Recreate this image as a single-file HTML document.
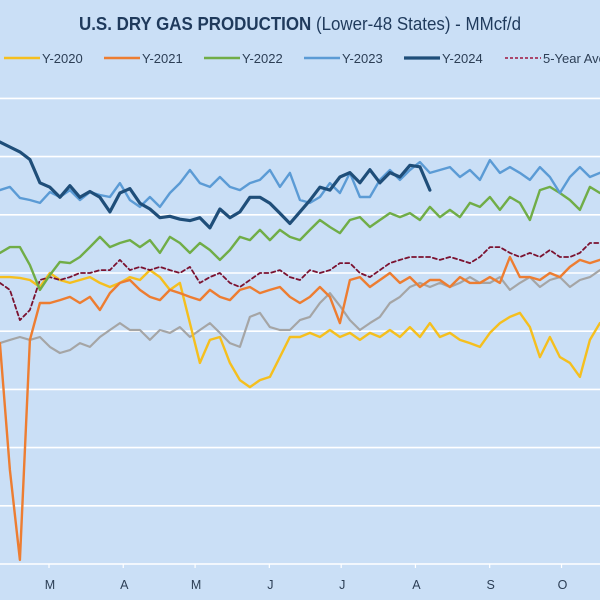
<!DOCTYPE html>
<html><head><meta charset="utf-8"><style>
html,body{margin:0;padding:0;background:#cadff6;}
svg{display:block;font-family:"Liberation Sans",sans-serif;}
</style></head><body>
<svg id="chart" width="600" height="600" viewBox="0 0 600 600">
<rect x="0" y="0" width="600" height="600" fill="#cadff6"/>
<text x="79" y="30" font-size="18.5" fill="#1f3a5c" textLength="442" lengthAdjust="spacingAndGlyphs"><tspan font-weight="bold">U.S. DRY GAS PRODUCTION</tspan> (Lower-48 States) - MMcf/d</text>
<g id="grid"></g>
<g id="xaxis"></g>
<g id="series"></g>
<g id="legend"></g>
</svg>
<script>
const monthLabels = ["M","A","M","J","J","A","S","O"];
const monthDays = [60,91,121,152,182,213,244,274];
const gridValues = [84,86,88,90,92,94,96,98,100];
const startDay = 39.5;
const stepDays = 4.175;

const y2024 = [98.5,98.33,98.16,97.9,97.1,96.95,96.6,97.0,96.6,96.8,96.6,96.1,96.75,96.9,96.4,96.2,95.9,95.95,95.85,95.8,95.9,95.55,96.2,95.9,96.1,96.6,96.6,96.4,96.05,95.7,96.1,96.5,96.95,96.85,97.3,97.45,97.1,97.55,97.1,97.45,97.3,97.7,97.65,96.85];
const y2023 = [96.85,96.96,96.58,96.51,96.41,96.78,96.61,96.85,96.51,96.78,96.68,96.61,97.09,96.51,96.27,96.61,96.27,96.75,97.09,97.54,97.09,96.96,97.3,96.96,96.85,97.09,97.2,97.54,96.96,97.44,96.51,96.41,96.61,97.09,96.75,97.44,96.61,96.61,97.2,97.54,97.2,97.54,97.81,97.44,97.54,97.64,97.3,97.54,97.2,97.88,97.44,97.64,97.44,97.2,97.64,97.3,96.75,97.3,97.64,97.3,97.44];
const y2022 = [94.69,94.89,94.89,94.27,93.42,93.93,94.38,94.34,94.55,94.89,95.24,94.89,95.03,95.13,94.89,95.13,94.69,95.24,95.03,94.69,95.03,94.79,94.45,94.79,95.24,95.13,95.48,95.13,95.48,95.24,95.13,95.48,95.82,95.58,95.37,95.82,95.92,95.58,95.82,96.06,95.92,96.06,95.82,96.27,95.92,96.17,95.92,96.41,96.27,96.61,96.17,96.61,96.41,95.82,96.85,96.96,96.75,96.51,96.17,96.96,96.75];
const avg5 = [93.66,93.42,92.38,92.73,93.76,93.86,93.76,93.86,94.0,94.0,94.1,94.1,94.45,94.1,94.21,94.1,94.21,94.1,94.0,94.21,93.66,93.86,94.0,93.66,93.52,93.76,94.0,94.0,94.1,93.86,93.76,94.1,94.0,94.1,94.34,94.34,94.0,93.86,94.1,94.34,94.45,94.55,94.55,94.55,94.45,94.55,94.45,94.34,94.55,94.89,94.89,94.69,94.55,94.69,94.55,94.79,94.55,94.55,94.69,95.03,95.03];
const y2021 = [91.59,87.23,84.14,91.7,92.97,92.97,93.07,93.18,92.97,93.18,92.73,93.31,93.66,93.76,93.42,93.18,93.07,93.42,93.31,93.18,93.07,93.42,93.18,93.07,93.42,93.52,93.31,93.42,93.52,93.18,92.97,93.18,93.52,93.18,92.28,93.76,93.86,93.52,93.76,94.0,93.66,93.86,93.52,93.76,93.76,93.52,93.86,93.66,93.66,93.86,93.66,94.55,93.86,93.86,93.76,94.0,93.86,94.21,94.45,94.34,94.45];
const y2020 = [93.86,93.86,93.83,93.76,93.52,94.0,93.76,93.66,93.76,93.86,93.66,93.52,93.66,93.86,93.76,94.1,93.86,93.42,93.66,92.28,90.91,91.7,91.8,90.91,90.32,90.08,90.32,90.43,91.11,91.8,91.8,91.94,91.8,92.04,91.8,91.94,91.7,91.94,91.8,92.04,91.8,92.14,91.8,92.28,91.8,91.94,91.7,91.59,91.46,91.94,92.28,92.49,92.63,92.14,91.11,91.8,91.11,90.91,90.43,91.7,92.28];
const yGray = [91.59,91.7,91.8,91.7,91.8,91.46,91.25,91.35,91.59,91.46,91.8,92.04,92.28,92.04,92.04,91.7,92.04,91.94,92.14,91.8,92.04,92.28,91.94,91.59,91.46,92.49,92.63,92.14,92.04,92.04,92.38,92.49,92.97,93.31,92.87,92.38,92.04,92.28,92.49,92.97,93.18,93.52,93.66,93.52,93.66,93.52,93.66,93.86,93.66,93.66,93.86,93.42,93.66,93.86,93.52,93.76,93.86,93.52,93.76,93.86,94.1];

const NS = "http://www.w3.org/2000/svg";
function xScale(day){ return 49 + (day - 60) * 2.395; }
function yScale(v){ return 564 - (v - 84) * 29.1; }
function mk(tag, attrs, parent){ const e = document.createElementNS(NS, tag); for (const k in attrs) e.setAttribute(k, attrs[k]); parent.appendChild(e); return e; }

const grid = document.getElementById('grid');
gridValues.forEach(v => {
  const l = mk('line', {x1:0, x2:600, y1:yScale(v), y2:yScale(v), stroke:'#ffffff', 'stroke-width':1.6}, grid);
  
  
});
const xa = document.getElementById('xaxis');
monthDays.forEach((d, i) => {
  const t = mk('line', {x1:xScale(d), x2:xScale(d), y1:564, y2:568, stroke:'#ffffff', 'stroke-width':1.2}, xa);
  
  
  const lb = mk('text', {x:xScale(d) + 1, y:589, 'text-anchor':'middle', 'font-size':12.5, fill:'#2c3e55'}, xa);
  lb.textContent = monthLabels[i];
  
  
});

const seriesDefs = [
  {data:yGray, color:'#a5a5a5', w:2.2, dash:null, name:'series-gray'},
  {data:y2020, color:'#f5bf1e', w:2.4, dash:null, name:'series-y-2020'},
  {data:y2021, color:'#ed7d31', w:2.4, dash:null, name:'series-y-2021'},
  {data:avg5, color:'#7b1230', w:1.8, dash:'4,3', name:'series-5-year-average'},
  {data:y2022, color:'#70ad47', w:2.4, dash:null, name:'series-y-2022'},
  {data:y2023, color:'#5b9bd5', w:2.4, dash:null, name:'series-y-2023'},
  {data:y2024, color:'#1f4e79', w:3.2, dash:null, name:'series-y-2024'}
];
const sg = document.getElementById('series');
seriesDefs.forEach(s => {
  const pts = s.data.map((v, i) => xScale(startDay + i * stepDays).toFixed(1) + ',' + yScale(v).toFixed(1)).join(' ');
  const attrs = {points:pts, fill:'none', stroke:s.color, 'stroke-width':s.w, 'stroke-linejoin':'round', 'stroke-linecap':'round'};
  if (s.dash) attrs['stroke-dasharray'] = s.dash;
  const p = mk('polyline', attrs, sg);
  
  
});

const legendItems = [
  {label:'Y-2020', color:'#f5bf1e', x:4, dash:null, w:2.6},
  {label:'Y-2021', color:'#ed7d31', x:104, dash:null, w:2.6},
  {label:'Y-2022', color:'#70ad47', x:204, dash:null, w:2.6},
  {label:'Y-2023', color:'#5b9bd5', x:304, dash:null, w:2.6},
  {label:'Y-2024', color:'#1f4e79', x:404, dash:null, w:3.2},
  {label:'5-Year Average', color:'#a0153e', x:505, dash:'3,2', w:1.6}
];
const lg = document.getElementById('legend');
legendItems.forEach(it => {
  const g = mk('g', {}, lg);
  
  
  const a = {x1:it.x, x2:it.x + 36, y1:58, y2:58, stroke:it.color, 'stroke-width':it.w};
  if (it.dash) a['stroke-dasharray'] = it.dash;
  mk('line', a, g);
  const t = mk('text', {x:it.x + 38, y:63, 'font-size':13, fill:'#2c3e55'}, g);
  t.textContent = it.label;
});
</script>
</body></html>
